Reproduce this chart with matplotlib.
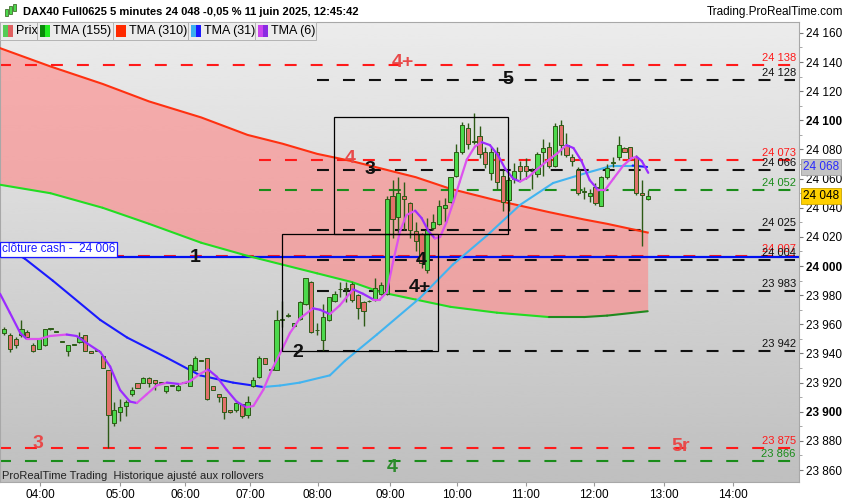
import matplotlib
matplotlib.use("Agg")
import matplotlib.pyplot as plt
import matplotlib.transforms as mtransforms
from matplotlib.collections import LineCollection
from matplotlib.patches import Rectangle
import numpy as np

plt.rcParams['font.family'] = ['Liberation Sans', 'DejaVu Sans']
plt.rcParams['lines.scale_dashes'] = False

# ---- data ----
# 5 min candles, index 0 = first visible bar, last = 12:45
opens = [23954, 23953, 23950, 23953, 23955, 23946, 23943, 23946, 23957, 23955,
         23948, 23942, 23946, 23948, 23953, 23942, 23942, 23938, 23929, 23892,
         23900, 23904, 23912, 23920, 23920, 23923, 23922, 23920, 23914, 23918,
         23915, 23920, 23918, 23929, 23935, 23937, 23918, 23912, 23910, 23901,
         23901, 23905, 23898, 23918, 23924, 23937, 23929, 23929, 23963, 23966,
         23959, 23964, 23974, 23989, 23956, 23949, 23963, 23976, 23984, 23985,
         23988, 23980, 23975, 23976, 23977, 23981, 23981, 24048, 24034, 24048,
         24043, 24024, 24022, 23997, 24026, 24029, 24040, 24044, 24062, 24078,
         24095, 24085, 24089, 24078, 24064, 24078, 24062, 24045, 24060, 24069,
         24069, 24065, 24063, 24078, 24082, 24069, 24097, 24083, 24075, 24066,
         24051, 24048, 24054, 24041, 24061, 24071, 24075, 24081, 24082, 24075,
         24050, 24046]
highs = [23958, 23954, 23951, 23963, 23956, 23947, 23950, 23957, 23957, 23955,
         23948, 23946, 23946, 23955, 23953, 23942, 23942, 23938, 23929, 23907,
         23909, 23908, 23917, 23920, 23924, 23924, 23922, 23920, 23918, 23918,
         23919, 23920, 23933, 23938, 23935, 23937, 23918, 23912, 23910, 23901,
         23906, 23905, 23911, 23924, 23938, 23937, 23929, 23970, 23976, 23968,
         23961, 23976, 23992, 23990, 23961, 23974, 23979, 23983, 23989, 23989,
         23989, 23981, 23976, 23977, 23992, 23989, 24048, 24059, 24061, 24058,
         24044, 24030, 24023, 24033, 24036, 24045, 24047, 24061, 24084, 24099,
         24098, 24105, 24096, 24082, 24082, 24082, 24066, 24061, 24071, 24072,
         24074, 24067, 24078, 24087, 24085, 24098, 24100, 24091, 24077, 24068,
         24054, 24053, 24057, 24062, 24070, 24075, 24089, 24082, 24082, 24076,
         24059, 24052]
lows = [23953, 23941, 23944, 23951, 23950, 23941, 23943, 23945, 23956, 23955,
        23948, 23938, 23946, 23947, 23942, 23940, 23942, 23930, 23875, 23890,
        23894, 23897, 23911, 23916, 23920, 23917, 23915, 23920, 23913, 23918,
        23914, 23920, 23918, 23928, 23935, 23908, 23915, 23907, 23895, 23899,
        23900, 23896, 23896, 23917, 23923, 23933, 23929, 23929, 23958, 23965,
        23958, 23963, 23973, 23954, 23953, 23942, 23962, 23975, 23979, 23975,
        23975, 23964, 23959, 23975, 23976, 23980, 23980, 24019, 24023, 24025,
        24019, 24010, 23999, 23995, 24025, 24028, 24030, 24043, 24061, 24077,
        24080, 24084, 24074, 24067, 24059, 24053, 24038, 24038, 24057, 24059,
        24060, 24053, 24061, 24062, 24067, 24068, 24076, 24075, 24069, 24049,
        24046, 24044, 24042, 24041, 24060, 24068, 24073, 24078, 24073, 24049,
        24014, 24045]
closes = [23957, 23943, 23946, 23957, 23951, 23942, 23950, 23957, 23957, 23955,
          23948, 23946, 23946, 23951, 23942, 23940, 23942, 23930, 23898, 23901,
          23903, 23907, 23915, 23916, 23923, 23920, 23920, 23920, 23918, 23918,
          23918, 23920, 23932, 23937, 23935, 23909, 23915, 23910, 23900, 23900,
          23906, 23897, 23907, 23922, 23937, 23933, 23929, 23963, 23964, 23966,
          23961, 23975, 23992, 23955, 23956, 23965, 23979, 23981, 23984, 23984,
          23977, 23971, 23969, 23976, 23985, 23987, 24046, 24032, 24050, 24046,
          24025, 24017, 24002, 24025, 24030, 24041, 24042, 24061, 24078, 24097,
          24084, 24086, 24077, 24070, 24078, 24058, 24044, 24059, 24065, 24065,
          24065, 24065, 24077, 24081, 24069, 24096, 24083, 24076, 24072, 24050,
          24051, 24050, 24043, 24061, 24067, 24071, 24083, 24078, 24074, 24050,
          24049, 24048]

# moving averages, sampled at bar indices
slow_idx = [-1, 8, 17, 25, 34, 42, 48, 54, 60, 65, 71, 77, 85, 94, 100, 104, 111]
tma310 = [24150, 24137, 24125, 24113, 24102, 24090, 24084, 24077, 24072, 24067,
          24061, 24053, 24045, 24037, 24032, 24029, 24023]
tma155 = [24056, 24050, 24040, 24029, 24016, 24007, 24001, 23995, 23989, 23982,
          23977, 23972, 23968, 23965, 23965, 23966, 23969]

tma31_idx = [-1, 3.6, 8.4, 16.6, 21.2, 28.1, 33.8, 39.5, 44.7, 47.6, 51, 56.2,
             58.8, 64.3, 71.7, 77.4, 83.3, 89, 94.7, 100.5, 105, 108.4, 110.9]
tma31 = [24016, 24005, 23990, 23963, 23951, 23937, 23925, 23920, 23917, 23918,
         23920, 23925, 23935, 23953, 23978, 24001, 24021, 24042, 24057, 24064,
         24069, 24069, 24068]

tma6_idx = [-0.7, 1.0, 2.8, 3.9, 6.2, 7.9, 10.8, 12.5, 14.3, 16.6, 18.3, 20.0,
            21.7, 22.9, 24.6, 26.3, 28.1, 30.3, 32.1, 33.8, 35.2, 36.7, 38.4,
            40.1, 41.8, 43.0, 44.7, 46.2, 47.6, 49.3, 51.0, 53.3, 54.5, 56.2,
            57.9, 60.2, 61.9, 63.7, 64.8, 66.0, 67.1, 68.3, 69.4, 70.9, 72.0,
            73.2, 74.3, 75.2, 76.3, 77.5, 78.6, 79.8, 81.2, 82.4, 83.8, 85.2,
            86.4, 87.8, 89.0, 90.4, 91.8, 93.6, 95.3, 97.0, 98.2, 99.6, 101.0,
            102.5, 103.6, 105.1, 106.8, 108.2, 109.1, 110.0, 111.1]
tma6 = [23981, 23968, 23954, 23950, 23950, 23952, 23953, 23952, 23947, 23941,
        23931, 23915, 23907, 23906, 23912, 23918, 23920, 23919, 23921, 23926,
        23929, 23924, 23915, 23907, 23903, 23904, 23915, 23929, 23940, 23954,
        23964, 23971, 23970, 23967, 23973, 23984, 23981, 23977, 23977, 23982,
        24003, 24024, 24035, 24038, 24033, 24024, 24019, 24020, 24030, 24044,
        24058, 24073, 24082, 24085, 24083, 24076, 24067, 24060, 24058, 24061,
        24066, 24072, 24077, 24083, 24081, 24072, 24059, 24052, 24052, 24060,
        24069, 24074, 24075, 24072, 24064]

# horizontal levels
level_prices = [24138, 24128, 24073, 24066, 24052, 24025, 24007, 24004,
                23983, 23942, 23875, 23866]
level_colors = ['red', 'black', 'red', 'black', 'green', 'black', 'red', 'black',
                'black', 'black', 'red', 'green']
level_start = [-1, 54, 44, 54, 44, 54, 18.6, 54, 54, 54, -1, -1]
cash_close = 24006

# annotations on the chart: text, bar index, price, colour
marks = [("4+", 68.8, 24139.5, 'red'), ("5", 86.9, 24128, 'black'),
         ("4", 59.7, 24074, 'red'), ("3", 63.1, 24066, 'black'),
         ("1", 32.9, 24006, 'black'), ("4", 71.9, 24004, 'black'),
         ("4+", 71.7, 23985, 'black'), ("2", 50.7, 23941, 'black'),
         ("3", 5.9, 23878, 'red'), ("5r", 116.6, 23876, 'red'),
         ("4", 66.9, 23862, 'green')]

# rectangles: x0, x1 (bar index), low, high
boxes = [(56.9, 86.9, 24022, 24102), (47.9, 74.8, 23942, 24022)]

tick_pos = [6.2, 20, 31.2, 42.4, 54.1, 66.6, 78.1, 90, 101.7, 113.8, 125.7]
tick_lab = ["04:00", "05:00", "06:00", "07:00", "08:00", "09:00", "10:00",
            "11:00", "12:00", "13:00", "14:00"]

last_price = 24048
tma31_last = 24068

# ---- colours ----
col = {'red': '#ff1a1a', 'black': '#111111', 'green': '#1a8c1a'}
mark_col = {'red': '#e84a4a', 'black': '#111111', 'green': '#2e8b2e'}

W, H = 850, 500
fig = plt.figure(figsize=(8.5, 5), dpi=100)
ax = fig.add_axes([0, 18 / H, 799 / W, 460 / H])

xmin, xmax = -0.7, 137.1
ymin, ymax = 23851.8, 24167.5

# background gradient
grad = np.linspace(0.925, 0.75, 256).reshape(-1, 1)
ax.imshow(grad, extent=[xmin, xmax, ymin, ymax], aspect='auto', cmap='gray',
          vmin=0, vmax=1, zorder=0, interpolation='bicubic')

# pink band between the two slow averages
ax.fill_between(slow_idx, tma155, tma310, color='#ff8585', alpha=0.6, lw=0, zorder=1)


def two_tone(x, y, c_down, c_up, lw, z):
    pts = np.column_stack([x, y])
    segs = np.stack([pts[:-1], pts[1:]], axis=1)
    cols = [c_down if y[k + 1] < y[k] else c_up for k in range(len(y) - 1)]
    ax.add_collection(LineCollection(segs, colors=cols, linewidths=lw, zorder=z,
                                     capstyle='round', joinstyle='round'))


# levels
for p, c, s in zip(level_prices, level_colors, level_start):
    ax.plot([s, 136.4], [p, p], color=col[c], lw=1.5, dashes=(8.6, 10.1), zorder=2)
ax.plot([xmin, xmax], [cash_close, cash_close], color='#0010f0', lw=1.6, zorder=2)

# averages
ax.plot(slow_idx, tma310, color='#ff3010', lw=1.5, zorder=3)
two_tone(slow_idx, tma155, '#22dd22', '#1e8a1e', 1.5, 3)
two_tone(tma31_idx, tma31, '#1a1aff', '#42b4f0', 1.5, 3)

# candles
idx = np.arange(len(opens))
o = np.array(opens); c = np.array(closes)
hi = np.array(highs); lo = np.array(lows)
up = c >= o
ax.vlines(idx, lo, hi, color='#2d5a16', lw=1.0, zorder=4)
body_lo = np.minimum(o, c)
body_h = np.maximum(np.abs(c - o), 0.35)
ax.bar(idx, body_h, bottom=body_lo, width=0.72,
       color=np.where(up, '#4cd94c', '#e2716b'), edgecolor='#2d5a16',
       linewidth=0.7, zorder=5)

two_tone(tma6_idx, tma6, '#9b2cff', '#dc52ee', 1.6, 6)

# boxes
for x0, x1, b, t in boxes:
    ax.add_patch(Rectangle((x0, b), x1 - x0, t - b, fill=False, ec='black',
                           lw=0.9, zorder=7))

# chart marks
for txt, x, y, c in marks:
    ax.text(x, y, txt, color=mark_col[c], fontsize=14, fontweight='bold',
            ha='center', va='center', zorder=8)

# level labels on the right
lab_tr = mtransforms.offset_copy(ax.get_yaxis_transform(), fig=fig, y=2, units='dots')
for p, c in zip(level_prices, level_colors):
    ax.text(0.996, p, f"{p:,}".replace(",", " "), color=col[c], fontsize=8,
            ha='right', va='bottom', transform=lab_tr, zorder=8)

# cash close label
ax.text(0.002, cash_close, "clôture cash -  24 006", color='#1a1aff', fontsize=8.5,
        ha='left', va='bottom', transform=lab_tr, zorder=9,
        bbox=dict(boxstyle='square,pad=0.15', fc='white', ec='#1a1aff', lw=0.9))

ax.text(0.003, 0.013, "ProRealTime Trading  Historique ajusté aux rollovers",
        transform=ax.transAxes, fontsize=8, color='#222222', va='center', zorder=9)

ax.set_xlim(xmin, xmax)
ax.set_ylim(ymin, ymax)

# axes
ax.yaxis.tick_right()
yt = np.arange(23860, 24161, 20)
ax.set_yticks(yt, [f"{v:,}".replace(",", " ") for v in yt])
for lab, v in zip(ax.get_yticklabels(), yt):
    if v % 100 == 0:
        lab.set_fontweight('bold')
        lab.set_fontsize(9.5)
ax.set_yticks(np.arange(23860, 24170, 10), minor=True)
ax.tick_params(axis='y', which='major', direction='out', length=3, pad=2,
               labelsize=8.5, color='#777777')
ax.tick_params(axis='y', which='minor', direction='out', length=2, color='#999999')
ax.set_xticks(tick_pos, tick_lab)
ax.tick_params(axis='x', direction='out', length=3, pad=2, labelsize=8.5,
               color='#999999')
for s in ax.spines.values():
    s.set_color('#a8a8a8')
    s.set_linewidth(0.8)

ytr = ax.get_yaxis_transform()
ax.text(1.005, tma31_last, "24 068", transform=ytr, color='#2a2aff', fontsize=8.5,
        ha='left', va='center', zorder=10, clip_on=False,
        bbox=dict(boxstyle='square,pad=0.2', fc='#c4c4c4', ec='#a0a0a0', lw=0.6))
ax.text(1.005, last_price, "24 048", transform=ytr, color='black', fontsize=8.5,
        ha='left', va='center', zorder=10, clip_on=False,
        bbox=dict(boxstyle='square,pad=0.2', fc='#ffd000', ec='#c9a400', lw=0.6))

# header
fig.text(23 / W, 1 - 12 / H, "DAX40 Full0625 5 minutes 24 048 -0,05 % 11 juin 2025, 12:45:42",
         fontsize=8, fontweight='bold', va='center', ha='left')
fig.text(843 / W, 1 - 12 / H, "Trading.ProRealTime.com", fontsize=8.5,
         va='center', ha='right')
for hx, hy, hh in [(5, 9, 7), (9, 6, 8), (13, 4, 7)]:
    fig.add_artist(Rectangle((hx / W, 1 - (hy + hh) / H), 3 / W, hh / H,
                             transform=fig.transFigure, fc='#4cd94c', ec='#2d5a16', lw=0.5))

# legend strip
cells = [(0, 37, "Prix", ['#55cc55', '#e06060']),
         (37, 113, "TMA (155)", ['#0a8a0a', '#22ee22']),
         (113, 188, "TMA (310)", ['#ff2a00', '#ff2a00']),
         (188, 255, "TMA (31)", ['#3ab0f0', '#1a1aff']),
         (255, 316, "TMA (6)", ['#cc44ee', '#8a2be2'])]
for x0, x1, name, cs in cells:
    fig.add_artist(Rectangle((x0 / W, 1 - 40 / H), (x1 - x0) / W, 18 / H,
                             transform=fig.transFigure, fc='#ececec', ec='#b4b4b4',
                             lw=0.7, zorder=20))
    for j, cc in enumerate(cs):
        fig.add_artist(Rectangle(((x0 + 3 + 5 * j) / W, 1 - 37 / H), 5 / W, 12 / H,
                                 transform=fig.transFigure, fc=cc, ec='none', zorder=21))
    fig.text((x0 + 16) / W, 1 - 31 / H, name, fontsize=9, va='center', ha='left',
             zorder=22)

fig.savefig("out.png", dpi=100, facecolor='white')
